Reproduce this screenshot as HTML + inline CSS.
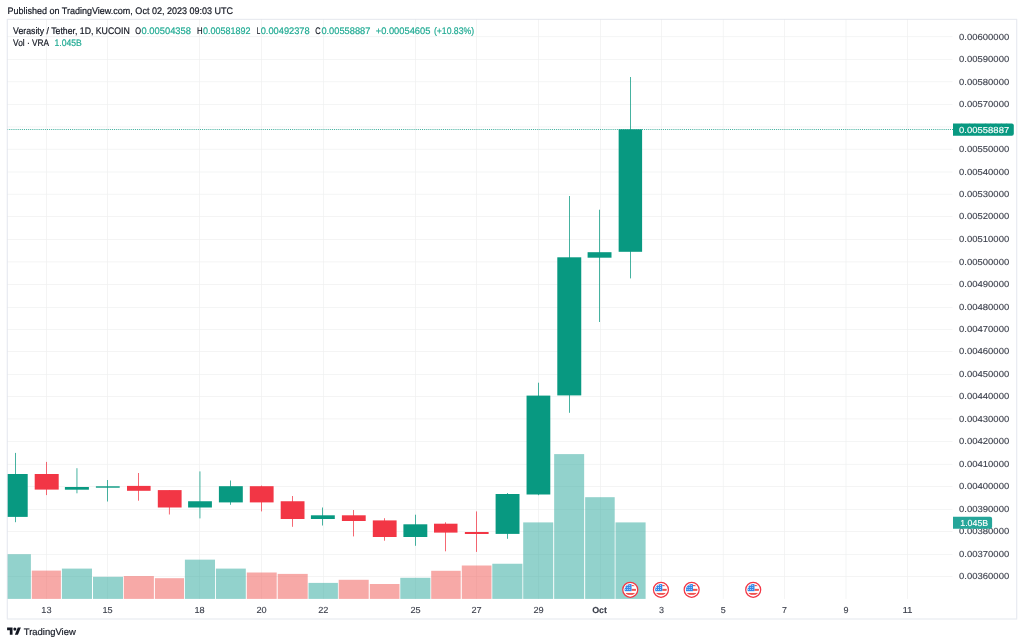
<!DOCTYPE html>
<html lang="en"><head><meta charset="utf-8"><title>VRAUSDT chart</title>
<style>html,body{margin:0;padding:0;background:#fff;width:1024px;height:644px;overflow:hidden}svg{display:block;position:absolute;left:0;top:0}text{text-rendering:geometricPrecision;font-family:"Liberation Sans",sans-serif;font-size:9.5px;fill:#131722;stroke:#131722;stroke-width:0.2px}.g{fill:#089981}.r{fill:#f23645}.vg{fill:rgba(38,166,154,0.5)}.vr{fill:rgba(239,83,80,0.5)}.gl{fill:#eff0f0}.t{fill:#22ab94;stroke:#22ab94}.b{font-weight:bold}.ax{font-size:8.75px;fill:#3a3e4a;stroke:#3a3e4a;stroke-width:0.12px}.w{fill:#fff;stroke:#fff}</style></head><body>
<svg width="1024" height="644" viewBox="0 0 1024 644">
<rect x="0" y="0" width="1024" height="644" fill="#fff"/>
<g class="gl">
<rect x="46.05" y="19.25" width="0.7" height="579.65"/>
<rect x="107.15" y="19.25" width="0.7" height="579.65"/>
<rect x="199.25" y="19.25" width="0.7" height="579.65"/>
<rect x="261.15" y="19.25" width="0.7" height="579.65"/>
<rect x="322.95" y="19.25" width="0.7" height="579.65"/>
<rect x="415.15" y="19.25" width="0.7" height="579.65"/>
<rect x="476.25" y="19.25" width="0.7" height="579.65"/>
<rect x="538.15" y="19.25" width="0.7" height="579.65"/>
<rect x="600.15" y="19.25" width="0.7" height="579.65"/>
<rect x="661.15" y="19.25" width="0.7" height="579.65"/>
<rect x="722.85" y="19.25" width="0.7" height="579.65"/>
<rect x="784.25" y="19.25" width="0.7" height="579.65"/>
<rect x="845.65" y="19.25" width="0.7" height="579.65"/>
<rect x="907.15" y="19.25" width="0.7" height="579.65"/>
<rect x="7.20" y="36.40" width="945.30" height="0.7"/>
<rect x="7.20" y="58.95" width="945.30" height="0.7"/>
<rect x="7.20" y="81.45" width="945.30" height="0.7"/>
<rect x="7.20" y="103.95" width="945.30" height="0.7"/>
<rect x="7.20" y="126.60" width="945.30" height="0.7"/>
<rect x="7.20" y="148.85" width="945.30" height="0.7"/>
<rect x="7.20" y="171.65" width="945.30" height="0.7"/>
<rect x="7.20" y="193.85" width="945.30" height="0.7"/>
<rect x="7.20" y="216.25" width="945.30" height="0.7"/>
<rect x="7.20" y="239.05" width="945.30" height="0.7"/>
<rect x="7.20" y="261.55" width="945.30" height="0.7"/>
<rect x="7.20" y="284.05" width="945.30" height="0.7"/>
<rect x="7.20" y="306.95" width="945.30" height="0.7"/>
<rect x="7.20" y="328.95" width="945.30" height="0.7"/>
<rect x="7.20" y="351.15" width="945.30" height="0.7"/>
<rect x="7.20" y="373.95" width="945.30" height="0.7"/>
<rect x="7.20" y="396.20" width="945.30" height="0.7"/>
<rect x="7.20" y="418.55" width="945.30" height="0.7"/>
<rect x="7.20" y="440.95" width="945.30" height="0.7"/>
<rect x="7.20" y="463.90" width="945.30" height="0.7"/>
<rect x="7.20" y="486.15" width="945.30" height="0.7"/>
<rect x="7.20" y="508.95" width="945.30" height="0.7"/>
<rect x="7.20" y="531.15" width="945.30" height="0.7"/>
<rect x="7.20" y="553.95" width="945.30" height="0.7"/>
<rect x="7.20" y="576.20" width="945.30" height="0.7"/>
</g>
<rect class="vg" x="7.20" y="554.20" width="23.70" height="44.70"/>
<rect class="vr" x="31.80" y="570.60" width="29.10" height="28.30"/>
<rect class="vg" x="61.90" y="568.60" width="30.10" height="30.30"/>
<rect class="vg" x="93.00" y="576.80" width="30.00" height="22.10"/>
<rect class="vr" x="123.80" y="576.05" width="30.10" height="22.85"/>
<rect class="vr" x="154.90" y="578.20" width="29.10" height="20.70"/>
<rect class="vg" x="184.90" y="559.65" width="30.10" height="39.25"/>
<rect class="vg" x="215.90" y="568.60" width="29.90" height="30.30"/>
<rect class="vr" x="246.80" y="572.50" width="29.90" height="26.40"/>
<rect class="vr" x="277.70" y="573.90" width="30.00" height="25.00"/>
<rect class="vg" x="308.50" y="582.90" width="29.40" height="16.00"/>
<rect class="vr" x="338.70" y="579.80" width="30.00" height="19.10"/>
<rect class="vr" x="369.80" y="584.00" width="29.70" height="14.90"/>
<rect class="vg" x="400.30" y="577.80" width="30.10" height="21.10"/>
<rect class="vr" x="431.20" y="570.80" width="29.50" height="28.10"/>
<rect class="vr" x="461.80" y="565.50" width="29.70" height="33.40"/>
<rect class="vg" x="492.30" y="563.75" width="30.10" height="35.15"/>
<rect class="vg" x="523.20" y="522.40" width="30.00" height="76.50"/>
<rect class="vg" x="554.15" y="454.10" width="30.00" height="144.80"/>
<rect class="vg" x="585.15" y="497.20" width="29.55" height="101.70"/>
<rect class="vg" x="615.50" y="522.40" width="30.10" height="76.50"/>
<line x1="7.20" y1="129.5" x2="953.00" y2="129.5" stroke="#089981" stroke-width="1" stroke-opacity="0.8" stroke-dasharray="1 1.095"/>
<rect class="g" x="15.22" y="452.90" width="0.75" height="69.30"/>
<rect class="g" x="7.30" y="474.00" width="20.40" height="42.90"/>
<rect class="r" x="46.02" y="461.90" width="0.75" height="33.20"/>
<rect class="r" x="34.70" y="474.00" width="24.00" height="15.60"/>
<rect class="g" x="76.58" y="468.20" width="0.75" height="25.10"/>
<rect class="g" x="64.90" y="487.00" width="24.00" height="2.70"/>
<rect class="g" x="107.03" y="480.00" width="0.75" height="21.50"/>
<rect class="g" x="95.90" y="486.30" width="23.80" height="1.40"/>
<rect class="r" x="138.12" y="473.00" width="0.75" height="27.70"/>
<rect class="r" x="127.00" y="485.90" width="23.60" height="4.90"/>
<rect class="r" x="168.93" y="490.10" width="0.75" height="24.40"/>
<rect class="r" x="157.80" y="490.10" width="23.80" height="17.40"/>
<rect class="g" x="199.57" y="471.40" width="0.75" height="47.00"/>
<rect class="g" x="188.10" y="501.25" width="23.80" height="6.25"/>
<rect class="g" x="230.12" y="480.50" width="0.75" height="24.30"/>
<rect class="g" x="218.90" y="486.20" width="23.90" height="16.20"/>
<rect class="r" x="261.12" y="485.60" width="0.75" height="25.80"/>
<rect class="r" x="249.80" y="486.20" width="23.80" height="16.20"/>
<rect class="r" x="292.02" y="496.00" width="0.75" height="30.80"/>
<rect class="r" x="280.70" y="501.25" width="23.80" height="17.75"/>
<rect class="g" x="322.12" y="507.50" width="0.75" height="18.00"/>
<rect class="g" x="310.90" y="515.30" width="23.90" height="3.70"/>
<rect class="r" x="353.23" y="510.00" width="0.75" height="26.40"/>
<rect class="r" x="341.90" y="515.30" width="23.80" height="5.70"/>
<rect class="r" x="384.12" y="518.20" width="0.75" height="22.50"/>
<rect class="r" x="372.80" y="520.40" width="23.80" height="16.60"/>
<rect class="g" x="415.02" y="514.70" width="0.75" height="31.10"/>
<rect class="g" x="403.40" y="524.30" width="23.90" height="12.70"/>
<rect class="r" x="445.10" y="522.30" width="0.75" height="29.00"/>
<rect class="r" x="434.00" y="523.70" width="23.50" height="8.90"/>
<rect class="r" x="476.07" y="511.40" width="0.75" height="40.50"/>
<rect class="r" x="464.86" y="532.00" width="23.74" height="2.00"/>
<rect class="g" x="507.12" y="493.00" width="0.75" height="45.80"/>
<rect class="g" x="495.60" y="494.00" width="23.90" height="39.90"/>
<rect class="g" x="538.12" y="382.70" width="0.75" height="112.50"/>
<rect class="g" x="526.55" y="395.60" width="23.75" height="98.90"/>
<rect class="g" x="569.12" y="196.00" width="0.75" height="216.80"/>
<rect class="g" x="557.30" y="257.30" width="23.95" height="138.10"/>
<rect class="g" x="599.23" y="209.70" width="0.75" height="112.30"/>
<rect class="g" x="587.60" y="252.20" width="23.90" height="5.50"/>
<rect class="g" x="630.12" y="77.00" width="0.75" height="201.40"/>
<rect class="g" x="618.65" y="129.30" width="23.45" height="122.50"/>
<g fill="#dde0e9">
<rect x="6.80" y="18.85" width="1010.40" height="0.80"/>
<rect x="6.80" y="618.60" width="1010.40" height="0.80"/>
<rect x="6.80" y="19.65" width="0.80" height="598.95"/>
<rect x="1016.40" y="19.65" width="0.80" height="598.95"/>
</g>
<text class="ax" x="959.1" y="39.60" textLength="50.1" lengthAdjust="spacingAndGlyphs">0.00600000</text>
<text class="ax" x="959.1" y="62.15" textLength="50.1" lengthAdjust="spacingAndGlyphs">0.00590000</text>
<text class="ax" x="959.1" y="84.65" textLength="50.1" lengthAdjust="spacingAndGlyphs">0.00580000</text>
<text class="ax" x="959.1" y="107.15" textLength="50.1" lengthAdjust="spacingAndGlyphs">0.00570000</text>
<text class="ax" x="959.1" y="129.80" textLength="50.1" lengthAdjust="spacingAndGlyphs">0.00560000</text>
<text class="ax" x="959.1" y="152.05" textLength="50.1" lengthAdjust="spacingAndGlyphs">0.00550000</text>
<text class="ax" x="959.1" y="174.85" textLength="50.1" lengthAdjust="spacingAndGlyphs">0.00540000</text>
<text class="ax" x="959.1" y="197.05" textLength="50.1" lengthAdjust="spacingAndGlyphs">0.00530000</text>
<text class="ax" x="959.1" y="219.45" textLength="50.1" lengthAdjust="spacingAndGlyphs">0.00520000</text>
<text class="ax" x="959.1" y="242.25" textLength="50.1" lengthAdjust="spacingAndGlyphs">0.00510000</text>
<text class="ax" x="959.1" y="264.75" textLength="50.1" lengthAdjust="spacingAndGlyphs">0.00500000</text>
<text class="ax" x="959.1" y="287.25" textLength="50.1" lengthAdjust="spacingAndGlyphs">0.00490000</text>
<text class="ax" x="959.1" y="310.15" textLength="50.1" lengthAdjust="spacingAndGlyphs">0.00480000</text>
<text class="ax" x="959.1" y="332.15" textLength="50.1" lengthAdjust="spacingAndGlyphs">0.00470000</text>
<text class="ax" x="959.1" y="354.35" textLength="50.1" lengthAdjust="spacingAndGlyphs">0.00460000</text>
<text class="ax" x="959.1" y="377.15" textLength="50.1" lengthAdjust="spacingAndGlyphs">0.00450000</text>
<text class="ax" x="959.1" y="399.40" textLength="50.1" lengthAdjust="spacingAndGlyphs">0.00440000</text>
<text class="ax" x="959.1" y="421.75" textLength="50.1" lengthAdjust="spacingAndGlyphs">0.00430000</text>
<text class="ax" x="959.1" y="444.15" textLength="50.1" lengthAdjust="spacingAndGlyphs">0.00420000</text>
<text class="ax" x="959.1" y="467.10" textLength="50.1" lengthAdjust="spacingAndGlyphs">0.00410000</text>
<text class="ax" x="959.1" y="489.35" textLength="50.1" lengthAdjust="spacingAndGlyphs">0.00400000</text>
<text class="ax" x="959.1" y="512.15" textLength="50.1" lengthAdjust="spacingAndGlyphs">0.00390000</text>
<text class="ax" x="959.1" y="534.35" textLength="50.1" lengthAdjust="spacingAndGlyphs">0.00380000</text>
<text class="ax" x="959.1" y="557.15" textLength="50.1" lengthAdjust="spacingAndGlyphs">0.00370000</text>
<text class="ax" x="959.1" y="579.40" textLength="50.1" lengthAdjust="spacingAndGlyphs">0.00360000</text>
<path class="g" d="M953 123.5H1011.8a2 2 0 0 1 2 2V133.8a2 2 0 0 1 -2 2H953Z"/>
<text class="ax w" x="959.1" y="132.6" textLength="50.1" lengthAdjust="spacingAndGlyphs">0.00558887</text>
<path fill="#26a69a" d="M953 516.7H990.1a2 2 0 0 1 2 2V526.7a2 2 0 0 1 -2 2H953Z"/>
<text class="ax w" x="960.25" y="525.65" textLength="27.9" lengthAdjust="spacingAndGlyphs">1.045B</text>
<text class="ax" x="46.40" y="612.65" text-anchor="middle" textLength="10.2" lengthAdjust="spacingAndGlyphs">13</text>
<text class="ax" x="107.50" y="612.65" text-anchor="middle" textLength="10.2" lengthAdjust="spacingAndGlyphs">15</text>
<text class="ax" x="199.60" y="612.65" text-anchor="middle" textLength="10.2" lengthAdjust="spacingAndGlyphs">18</text>
<text class="ax" x="261.50" y="612.65" text-anchor="middle" textLength="10.2" lengthAdjust="spacingAndGlyphs">20</text>
<text class="ax" x="323.30" y="612.65" text-anchor="middle" textLength="10.2" lengthAdjust="spacingAndGlyphs">22</text>
<text class="ax" x="415.50" y="612.65" text-anchor="middle" textLength="10.2" lengthAdjust="spacingAndGlyphs">25</text>
<text class="ax" x="476.60" y="612.65" text-anchor="middle" textLength="10.2" lengthAdjust="spacingAndGlyphs">27</text>
<text class="ax" x="538.50" y="612.65" text-anchor="middle" textLength="10.2" lengthAdjust="spacingAndGlyphs">29</text>
<text class="ax" x="661.50" y="612.65" text-anchor="middle" textLength="5.0" lengthAdjust="spacingAndGlyphs">3</text>
<text class="ax" x="723.20" y="612.65" text-anchor="middle" textLength="5.0" lengthAdjust="spacingAndGlyphs">5</text>
<text class="ax" x="784.60" y="612.65" text-anchor="middle" textLength="5.0" lengthAdjust="spacingAndGlyphs">7</text>
<text class="ax" x="846.00" y="612.65" text-anchor="middle" textLength="5.0" lengthAdjust="spacingAndGlyphs">9</text>
<text class="ax" x="907.50" y="612.65" text-anchor="middle" textLength="10.2" lengthAdjust="spacingAndGlyphs">11</text>
<text class="ax b" x="599.6" y="612.65" text-anchor="middle" textLength="14.8" lengthAdjust="spacingAndGlyphs">Oct</text>
<text x="7.4" y="14.2" textLength="225.6" lengthAdjust="spacingAndGlyphs">Published on TradingView.com, Oct 02, 2023 09:03 UTC</text>
<text x="13.10" y="33.70" textLength="116.60" lengthAdjust="spacingAndGlyphs">Verasity / Tether, 1D, KUCOIN</text>
<text x="135.20" y="33.70" textLength="5.80" lengthAdjust="spacingAndGlyphs">O</text>
<text class="t" x="141.50" y="33.70" textLength="49.50" lengthAdjust="spacingAndGlyphs">0.00504358</text>
<text x="197.00" y="33.70" textLength="5.60" lengthAdjust="spacingAndGlyphs">H</text>
<text class="t" x="203.10" y="33.70" textLength="47.50" lengthAdjust="spacingAndGlyphs">0.00581892</text>
<text x="256.80" y="33.70" textLength="3.50" lengthAdjust="spacingAndGlyphs">L</text>
<text class="t" x="260.70" y="33.70" textLength="49.00" lengthAdjust="spacingAndGlyphs">0.00492378</text>
<text x="315.20" y="33.70" textLength="5.40" lengthAdjust="spacingAndGlyphs">C</text>
<text class="t" x="321.40" y="33.70" textLength="49.00" lengthAdjust="spacingAndGlyphs">0.00558887</text>
<text class="t" x="375.70" y="33.70" textLength="54.70" lengthAdjust="spacingAndGlyphs">+0.00054605</text>
<text class="t" x="433.90" y="33.70" textLength="40.20" lengthAdjust="spacingAndGlyphs">(+10.83%)</text>
<text x="13.10" y="45.80" textLength="35.90" lengthAdjust="spacingAndGlyphs">Vol · VRA</text>
<text class="t" x="54.50" y="45.80" textLength="27.30" lengthAdjust="spacingAndGlyphs">1.045B</text>
<g transform="translate(630.25 589.75)">
<circle r="7.5" fill="#fff" stroke="#f23645" stroke-width="1.25"/>
<clipPath id="fc630"><circle r="5.8"/></clipPath>
<g clip-path="url(#fc630)">
<rect x="-6" y="-6" width="12" height="12" fill="#fff"/>
<rect x="1.3" y="-4.8" width="6" height="1.2" fill="#ef5350"/>
<rect x="1.3" y="-0.9" width="6" height="2.0" fill="#ef5350"/>
<rect x="-6" y="3.2" width="12" height="1.9" fill="#ef5350"/>
<rect x="-6" y="-6" width="7.3" height="7.45" fill="#3388e8"/>
<rect x="-4.95" y="-4.60" width="0.8" height="0.8" fill="#fff"/>
<rect x="-4.95" y="-2.63" width="0.8" height="0.8" fill="#fff"/>
<rect x="-4.95" y="-0.66" width="0.8" height="0.8" fill="#fff"/>
<rect x="-2.90" y="-4.60" width="0.8" height="0.8" fill="#fff"/>
<rect x="-2.90" y="-2.63" width="0.8" height="0.8" fill="#fff"/>
<rect x="-2.90" y="-0.66" width="0.8" height="0.8" fill="#fff"/>
<rect x="-0.85" y="-4.60" width="0.8" height="0.8" fill="#fff"/>
<rect x="-0.85" y="-2.63" width="0.8" height="0.8" fill="#fff"/>
<rect x="-0.85" y="-0.66" width="0.8" height="0.8" fill="#fff"/>
</g></g>
<g transform="translate(660.95 589.75)">
<circle r="7.5" fill="#fff" stroke="#f23645" stroke-width="1.25"/>
<clipPath id="fc660"><circle r="5.8"/></clipPath>
<g clip-path="url(#fc660)">
<rect x="-6" y="-6" width="12" height="12" fill="#fff"/>
<rect x="1.3" y="-4.8" width="6" height="1.2" fill="#ef5350"/>
<rect x="1.3" y="-0.9" width="6" height="2.0" fill="#ef5350"/>
<rect x="-6" y="3.2" width="12" height="1.9" fill="#ef5350"/>
<rect x="-6" y="-6" width="7.3" height="7.45" fill="#3388e8"/>
<rect x="-4.95" y="-4.60" width="0.8" height="0.8" fill="#fff"/>
<rect x="-4.95" y="-2.63" width="0.8" height="0.8" fill="#fff"/>
<rect x="-4.95" y="-0.66" width="0.8" height="0.8" fill="#fff"/>
<rect x="-2.90" y="-4.60" width="0.8" height="0.8" fill="#fff"/>
<rect x="-2.90" y="-2.63" width="0.8" height="0.8" fill="#fff"/>
<rect x="-2.90" y="-0.66" width="0.8" height="0.8" fill="#fff"/>
<rect x="-0.85" y="-4.60" width="0.8" height="0.8" fill="#fff"/>
<rect x="-0.85" y="-2.63" width="0.8" height="0.8" fill="#fff"/>
<rect x="-0.85" y="-0.66" width="0.8" height="0.8" fill="#fff"/>
</g></g>
<g transform="translate(691.65 589.75)">
<circle r="7.5" fill="#fff" stroke="#f23645" stroke-width="1.25"/>
<clipPath id="fc691"><circle r="5.8"/></clipPath>
<g clip-path="url(#fc691)">
<rect x="-6" y="-6" width="12" height="12" fill="#fff"/>
<rect x="1.3" y="-4.8" width="6" height="1.2" fill="#ef5350"/>
<rect x="1.3" y="-0.9" width="6" height="2.0" fill="#ef5350"/>
<rect x="-6" y="3.2" width="12" height="1.9" fill="#ef5350"/>
<rect x="-6" y="-6" width="7.3" height="7.45" fill="#3388e8"/>
<rect x="-4.95" y="-4.60" width="0.8" height="0.8" fill="#fff"/>
<rect x="-4.95" y="-2.63" width="0.8" height="0.8" fill="#fff"/>
<rect x="-4.95" y="-0.66" width="0.8" height="0.8" fill="#fff"/>
<rect x="-2.90" y="-4.60" width="0.8" height="0.8" fill="#fff"/>
<rect x="-2.90" y="-2.63" width="0.8" height="0.8" fill="#fff"/>
<rect x="-2.90" y="-0.66" width="0.8" height="0.8" fill="#fff"/>
<rect x="-0.85" y="-4.60" width="0.8" height="0.8" fill="#fff"/>
<rect x="-0.85" y="-2.63" width="0.8" height="0.8" fill="#fff"/>
<rect x="-0.85" y="-0.66" width="0.8" height="0.8" fill="#fff"/>
</g></g>
<g transform="translate(753.20 589.75)">
<circle r="7.5" fill="#fff" stroke="#f23645" stroke-width="1.25"/>
<clipPath id="fc753"><circle r="5.8"/></clipPath>
<g clip-path="url(#fc753)">
<rect x="-6" y="-6" width="12" height="12" fill="#fff"/>
<rect x="1.3" y="-4.8" width="6" height="1.2" fill="#ef5350"/>
<rect x="1.3" y="-0.9" width="6" height="2.0" fill="#ef5350"/>
<rect x="-6" y="3.2" width="12" height="1.9" fill="#ef5350"/>
<rect x="-6" y="-6" width="7.3" height="7.45" fill="#3388e8"/>
<rect x="-4.95" y="-4.60" width="0.8" height="0.8" fill="#fff"/>
<rect x="-4.95" y="-2.63" width="0.8" height="0.8" fill="#fff"/>
<rect x="-4.95" y="-0.66" width="0.8" height="0.8" fill="#fff"/>
<rect x="-2.90" y="-4.60" width="0.8" height="0.8" fill="#fff"/>
<rect x="-2.90" y="-2.63" width="0.8" height="0.8" fill="#fff"/>
<rect x="-2.90" y="-0.66" width="0.8" height="0.8" fill="#fff"/>
<rect x="-0.85" y="-4.60" width="0.8" height="0.8" fill="#fff"/>
<rect x="-0.85" y="-2.63" width="0.8" height="0.8" fill="#fff"/>
<rect x="-0.85" y="-0.66" width="0.8" height="0.8" fill="#fff"/>
</g></g>
<g transform="translate(7.1 627.45) scale(0.388 0.40)" fill="#131722">
<path d="M14 18H7V7H0V0h14v18zM28 18h-8l7.5-18h8L28 18z"/><circle cx="20" cy="4" r="4"/>
</g>
<text x="23.75" y="634.6" style="font-size:9.4px;fill:#1c202b;stroke:#1c202b;stroke-width:0.22px" textLength="52.0" lengthAdjust="spacingAndGlyphs">TradingView</text>
</svg></body></html>
